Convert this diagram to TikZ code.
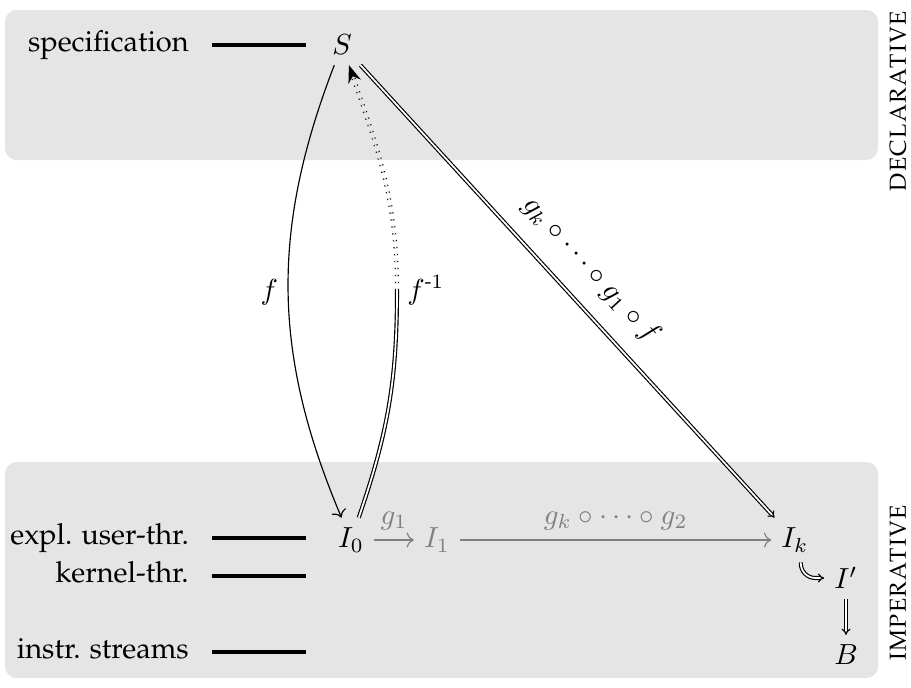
\documentclass[tikz,border=0pt]{standalone}
\usepackage[T1]{fontenc}
\usepackage{palatino}
\usepackage{amsmath}
\usetikzlibrary{arrows.meta}
\tikzset{
  layer/.style={fill=black!10,rounded corners=4pt},
  tid/.style={anchor=mid east},
  tline/.style={very thick},
  dbl/.style={double,-{Implies}},
  gstep/.style={gray,->},
}
\begin{document}
\begin{tikzpicture}[x=0.0121cm,y=-0.0121cm]
\useasboundingbox (0,0) rectangle (911,687);
% the two layers
\fill[layer] (5,10) rectangle (878,160);
\fill[layer] (5,462) rectangle (878,678);
\node[rotate=90] (decl) at (898,101) {\textsc{declarative}};
\node[rotate=90] (imp) at (898,583) {\textsc{imperative}};

% levels on the left
\node[tid] (spec) at (199,45) {specification};
\node[tid] (user) at (199,538) {expl. user-thr.};
\node[tid] (kern) at (199,576) {kernel-thr.};
\node[tid] (instr) at (199,652) {instr. streams};
\foreach \n in {spec,user,kern,instr}
  \draw[tline] ([xshift=4.6pt]\n.mid east) -- ++(94,0);

% programs
\node (S) at (342,45) {$S$};
\node (I0) at (351,540) {$I_0$};
\node[gray] (I1) at (437,540) {$I_1$};
\node (Ik) at (795,540) {$I_k$};
\node (Ip) at (846,578) {$I'$};
\node (B) at (846,655) {$B$};

\draw[gstep] (I0) -- node[above] {$g_1$} (I1);
\draw[gstep] (I1) -- node[above] {$g_k \circ \cdots \circ g_2$} (Ik);

\draw[->] (S) to[bend right=22] node[left] {$f$} (I0);
\coordinate (m) at (397,290);
\draw[double] (I0) to[out=71,in=-90] (m);
\draw[double,dotted,-{Stealth[length=6pt]}] (m) to[out=90,in=-71]
  node[at start,right] {$f^{\text{-}1}$} (S);

\draw[dbl] (S) -- node[sloped,above=3pt] {$g_k \circ \cdots \circ g_1 \circ f$} (Ik);
\draw[dbl,rounded corners=5pt] ([xshift=2pt]Ik.south) |- (Ip.west);
\draw[dbl] (Ip) -- (B);
\end{tikzpicture}
\end{document}
